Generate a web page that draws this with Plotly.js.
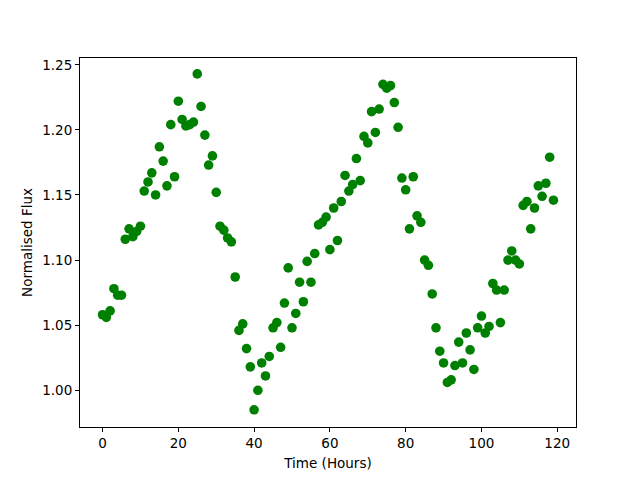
<!DOCTYPE html>
<html>
<head>
<meta charset="utf-8">
<script src="https://cdn.plot.ly/plotly-3.0.1.min.js"></script>
<style>html,body{margin:0;padding:0;background:#fff;}#chart{width:640px;height:480px;}</style>
</head>
<body>
<div id="chart"></div>
<script>
var timeHours = [];
for (var i = 0; i < 120; i++) { timeHours.push(i); }
var normalisedFlux = [
  1.058, 1.056, 1.061, 1.078, 1.073, 1.073, 1.116, 1.124, 1.118, 1.122,
  1.126, 1.153, 1.160, 1.167, 1.150, 1.187, 1.176, 1.157, 1.204, 1.164,
  1.222, 1.208, 1.203, 1.204, 1.206, 1.243, 1.218, 1.196, 1.173, 1.180,
  1.152, 1.126, 1.123, 1.117, 1.114, 1.087, 1.046, 1.051, 1.032, 1.018,
  0.985, 1.000, 1.021, 1.011, 1.026, 1.048, 1.052, 1.033, 1.067, 1.094,
  1.048, 1.059, 1.083, 1.068, 1.099, 1.083, 1.105, 1.127, 1.129, 1.133,
  1.108, 1.140, 1.115, 1.145, 1.165, 1.153, 1.158, 1.178, 1.161, 1.195,
  1.190, 1.214, 1.198, 1.216, 1.235, 1.232, 1.234, 1.221, 1.202, 1.163,
  1.154, 1.124, 1.164, 1.134, 1.129, 1.100, 1.096, 1.074, 1.048, 1.030,
  1.021, 1.006, 1.008, 1.019, 1.037, 1.021, 1.044, 1.031, 1.016, 1.048,
  1.057, 1.044, 1.049, 1.082, 1.077, 1.052, 1.077, 1.100, 1.107, 1.100,
  1.097, 1.142, 1.145, 1.124, 1.140, 1.157, 1.149, 1.159, 1.179, 1.146
];
var xTickVals = [0, 20, 40, 60, 80, 100, 120];
var yTickVals = [1.00, 1.05, 1.10, 1.15, 1.20, 1.25];

var trace = {
  x: timeHours,
  y: normalisedFlux,
  mode: 'markers',
  type: 'scatter',
  marker: {color: '#008000', size: 9.6, line: {width: 0}},
  hoverinfo: 'skip'
};

var font = {family: 'DejaVu Sans, sans-serif', size: 13.5, color: '#000'};
var layout = {
  width: 640, height: 480,
  margin: {l: 80, r: 64, t: 58, b: 53, pad: 0},
  paper_bgcolor: '#fff', plot_bgcolor: '#fff',
  showlegend: false,
  font: font,
  xaxis: {
    range: [-5.95, 124.95],
    tickvals: xTickVals,
    ticktext: xTickVals.map(String),
    ticks: 'outside', ticklen: 4, tickwidth: 1, tickcolor: '#000',
    showline: true, linecolor: '#000', linewidth: 1, mirror: true,
    showgrid: false, zeroline: false,
    tickfont: font,
    title: {text: 'Time (Hours)', font: font, standoff: 8}
  },
  yaxis: {
    range: [0.9718, 1.2552],
    tickvals: yTickVals,
    ticktext: yTickVals.map(function(v){return v.toFixed(2);}),
    ticks: 'outside', ticklen: 4, tickwidth: 1, tickcolor: '#000',
    showline: true, linecolor: '#000', linewidth: 1, mirror: true,
    showgrid: false, zeroline: false,
    tickfont: font,
    title: {text: 'Normalised Flux', font: font, standoff: 6}
  }
};

Plotly.newPlot('chart', [trace], layout, {displayModeBar: false, staticPlot: true});
</script>
</body>
</html>
